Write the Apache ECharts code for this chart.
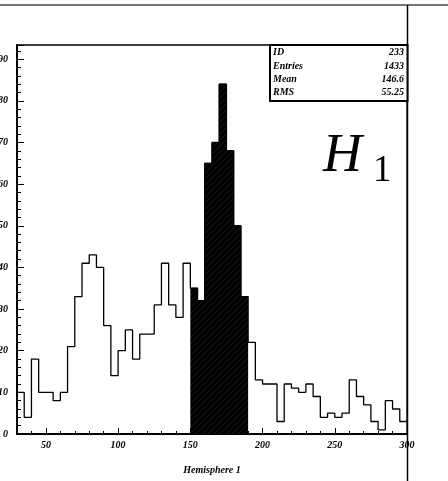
<!DOCTYPE html>
<html>
<head>
<meta charset="utf-8">
<script src="https://cdn.jsdelivr.net/npm/echarts@6/dist/echarts.min.js"></script>
<style>html,body{margin:0;padding:0;background:#fff;}#c{width:448px;height:481px;}</style>
</head>
<body>
<div id="c"></div>
<script>
// ---- data ----
const xMin = 30, xMax = 300, binWidth = 5;
const counts = [10,4,18,10,10,8,10,21,33,41,43,40,26,14,20,25,18,24,24,31,41,31,28,41,
                35,32,65,70,84,68,50,33,
                22,13,12,12,3,12,11,10,12,9,4,5,4,5,13,9,7,3,1,8,6,3];
const shadedFrom = 150, shadedTo = 190;
const xTickLabels = [50,100,150,200,250,300];
const yTickLabels = [0,10,20,30,40,50,60,70,80,90];
const yMax = 93.4;
const xTitle = 'Hemisphere 1';
const statNames = ['ID','Entries','Mean','RMS'];
const statValues = ['233','1433','146.6','55.25'];

// ---- build ----
const edges = counts.map((c, i) => xMin + i * binWidth);
const outline = counts.map((c, i) => [edges[i], c]);
outline.push([xMax, counts[counts.length - 1]]);
const shaded = [];
counts.forEach((c, i) => { if (edges[i] >= shadedFrom && edges[i] < shadedTo) shaded.push([edges[i], c]); });
shaded.push([shadedTo, shaded[shaded.length - 1][1]]);

const pc = document.createElement('canvas');
pc.width = 6; pc.height = 6;
const g = pc.getContext('2d');
g.fillStyle = '#000'; g.fillRect(0, 0, 6, 6);
g.strokeStyle = '#262626'; g.lineWidth = 0.7;
g.beginPath(); g.moveTo(0, 6); g.lineTo(6, 0); g.stroke();

const font = { fontFamily: 'Liberation Serif', fontStyle: 'italic', fontWeight: 'bold', color: '#000' };
const L = 17, R = 407, T = 45, B = 434;

const chart = echarts.init(document.getElementById('c'), null, { renderer: 'canvas' });
const graphics = [
  { type: 'line', shape: { x1: 0, y1: 5, x2: 448, y2: 5 }, style: { stroke: '#444', lineWidth: 1.5 }, z: 100 },
  { type: 'line', shape: { x1: 407.5, y1: 5, x2: 407.5, y2: 481 }, style: { stroke: '#000', lineWidth: 1.5 }, z: 100 },
  { type: 'rect', shape: { x: 270, y: 45, width: 137.5, height: 56 }, style: { fill: '#fff', stroke: '#000', lineWidth: 2 }, z: 100 },
  { type: 'text', x: 323, y: 184, style: { text: 'H', font: 'italic 54px "Liberation Serif"', fill: '#000', verticalAlign: 'bottom' }, z: 100 },
  { type: 'text', x: 373, y: 190, style: { text: '1', font: '37px "Liberation Serif"', fill: '#000', verticalAlign: 'bottom' }, z: 100 }
];
statNames.forEach((n, i) => {
  graphics.push({ type: 'text', x: 273, y: 52.7 + i * 13.4, style: { text: n, font: 'italic bold 10px "Liberation Serif"', fill: '#000', verticalAlign: 'middle', align: 'left' }, z: 101 });
  graphics.push({ type: 'text', x: 404, y: 52.7 + i * 13.4, style: { text: statValues[i], font: 'italic bold 10px "Liberation Serif"', fill: '#000', verticalAlign: 'middle', align: 'right' }, z: 101 });
});

chart.setOption({
  animation: false,
  grid: { left: L, top: T, width: R - L, height: B - T, show: true, borderColor: '#000', borderWidth: 1.3, backgroundColor: '#fff', containLabel: false, outerBoundsMode: 'none' },
  xAxis: [
    { type: 'value', min: xMin, max: xMax, interval: 10, position: 'bottom',
      axisLine: { show: true, onZero: false, lineStyle: { color: '#000', width: 2 } },
      axisTick: { show: true, inside: true, length: 3, lineStyle: { color: '#000', width: 1 } },
      axisLabel: Object.assign({ formatter: v => xTickLabels.includes(v) ? String(v) : '', margin: 6, fontSize: 10, hideOverlap: false }, font),
      splitLine: { show: false },
      name: xTitle, nameLocation: 'middle', nameGap: 31,
      nameTextStyle: Object.assign({ fontSize: 10 }, font) },
    { type: 'value', min: xMin, max: xMax, interval: 10, position: 'bottom',
      axisLine: { show: false, onZero: false },
      axisTick: { show: true, inside: true, length: 6, customValues: xTickLabels, lineStyle: { color: '#000', width: 1 } },
      axisLabel: { show: false }, splitLine: { show: false } }
  ],
  yAxis: [
    { type: 'value', min: 0, max: yMax, interval: 2, position: 'left',
      axisLine: { show: true, onZero: false, lineStyle: { color: '#000', width: 2 } },
      axisTick: { show: true, inside: true, length: 4, lineStyle: { color: '#000', width: 1 } },
      axisLabel: { show: false }, splitLine: { show: false } },
    { type: 'value', min: 0, max: yMax, interval: 10, position: 'left',
      axisLine: { show: false, onZero: false },
      axisTick: { show: true, inside: true, length: 7, lineStyle: { color: '#000', width: 1 } },
      axisLabel: Object.assign({ formatter: v => yTickLabels.includes(v) ? String(v) : '', margin: 9, fontSize: 10 }, font),
      splitLine: { show: false } }
  ],
  series: [
    { type: 'line', xAxisIndex: 0, yAxisIndex: 0, step: 'end', data: outline, symbol: 'none',
      lineStyle: { color: '#000', width: 1.3 }, z: 3 },
    { type: 'line', xAxisIndex: 0, yAxisIndex: 0, step: 'end', data: shaded, symbol: 'none',
      lineStyle: { color: '#000', width: 1 }, areaStyle: { color: { image: pc, repeat: 'repeat' }, opacity: 1 }, z: 4 }
  ],
  graphic: graphics
});
</script>
</body>
</html>
